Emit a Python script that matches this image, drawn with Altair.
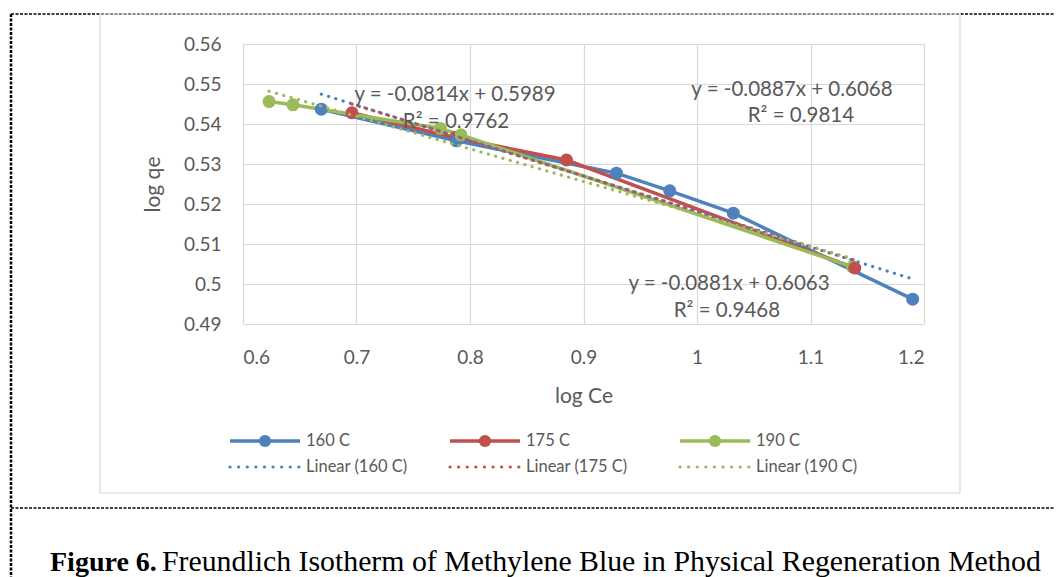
import altair as alt
import pandas as pd

# ---- data ----
series = ["160 C", "175 C", "190 C"]
colors = ["#4F81BD", "#C0504D", "#9BBB59"]

x160 = [0.669, 0.788, 0.929, 0.976, 1.032, 1.190]
y160 = [0.5437, 0.5358, 0.5277, 0.5233, 0.5177, 0.4962]
x175 = [0.696, 0.787, 0.885, 1.139]
y175 = [0.5428, 0.5366, 0.5310, 0.5040]
x190 = [0.623, 0.644, 0.774, 0.792, 1.137]
y190 = [0.5456, 0.5448, 0.5389, 0.5373, 0.5043]

# trendline equations shown on the chart
slopes = [-0.0887, -0.0881, -0.0814]
intercepts = [0.6068, 0.6063, 0.5989]
r2 = [0.9814, 0.9468, 0.9762]

# annotation anchor points (data units): equation line and R² line
eq_x = [1.0837, 1.0282, 0.7868]
eq_y = [0.5485, 0.5000, 0.54725]
r2_x = [1.0916, 1.0264, 0.7877]
r2_y = [0.5420, 0.49325, 0.5405]

x_ticks = [0.6, 0.7, 0.8, 0.9, 1.0, 1.1, 1.2]
y_ticks = [0.49, 0.50, 0.51, 0.52, 0.53, 0.54, 0.55, 0.56]

caption_bold = "Figure 6."
caption_rest = "Freundlich Isotherm of Methylene Blue in Physical Regeneration Method"

# ---- tables ----
xs = [x160, x175, x190]
ys = [y160, y175, y190]
pts = pd.DataFrame(
    [{"series": s, "x": x, "y": y} for s, xx, yy in zip(series, xs, ys) for x, y in zip(xx, yy)]
)
trend_rows = []
for s, xx, m, b in zip(series, xs, slopes, intercepts):
    for x in (min(xx), max(xx)):
        trend_rows.append({"series": s, "x": x, "y": m * x + b})
trend = pd.DataFrame(trend_rows)

ann_rows = []
for m, b, r, ex, ey, rx, ry in zip(slopes, intercepts, r2, eq_x, eq_y, r2_x, r2_y):
    ann_rows.append({"x": ex, "y": ey, "t": f"y = {m:.4f}x + {b:.4f}"})
    ann_rows.append({"x": rx, "y": ry, "t": f"R² = {r:.4f}"})
ann = pd.DataFrame(ann_rows)

W, H = 681, 280
OX, OY = 243, 44  # page position of the plot origin
FONT = "Lato"
GREY = "#595959"

color = alt.Color("series:N", scale=alt.Scale(domain=series, range=colors), legend=None)
xs_scale = alt.Scale(domain=[0.6, 1.2], nice=False, zero=False)
ys_scale = alt.Scale(domain=[0.49, 0.56], nice=False, zero=False)


def px(v):
    return alt.value(v - OX)


def py(v):
    return alt.value(v - OY)


anchor = pd.DataFrame({"a": [0]})

frame = alt.Chart(anchor).mark_rect(fillOpacity=0, stroke="#D9D9D9", strokeWidth=1.2).encode(
    x=px(100), x2=px(960), y=py(14), y2=py(493)
)
dash_top = alt.Chart(anchor).mark_rule(color="black", strokeDash=[3, 1.5], strokeWidth=1.5).encode(
    x=px(11), x2=px(1062), y=py(14)
)
dash_bottom = alt.Chart(anchor).mark_rule(color="black", strokeDash=[3, 1.5], strokeWidth=1.5).encode(
    x=px(11), x2=px(1062), y=py(508)
)
dash_left = alt.Chart(anchor).mark_rule(color="black", strokeDash=[3, 1.5], strokeWidth=2.5).encode(
    x=px(11), y=py(14), y2=py(577)
)

axis_common = dict(grid=True, gridColor="#D9D9D9", gridWidth=1.2, domain=False, ticks=False,
                   labelFont=FONT, labelFontSize=19, labelColor=GREY, labelOverlap=False,
                   tickCount=20,
                   titleFont=FONT, titleFontSize=21, titleFontWeight="normal", titleColor=GREY)

base_axes = alt.Chart(pts).mark_point(opacity=0).encode(
    x=alt.X("x:Q", scale=xs_scale, title="log Ce",
            axis=alt.Axis(values=x_ticks, format="~g", labelPadding=24, titlePadding=18, **axis_common)),
    y=alt.Y("y:Q", scale=ys_scale, title="log qe",
            axis=alt.Axis(values=y_ticks, format="~g", labelPadding=22, titlePadding=20, **axis_common)),
)

lines = alt.Chart(pts).mark_line(
    strokeWidth=3.5, point=alt.OverlayMarkDef(filled=True, size=170, opacity=1)
).encode(x=alt.X("x:Q", scale=xs_scale), y=alt.Y("y:Q", scale=ys_scale), color=color,
         order=alt.Order("x:Q"))

trends = alt.Chart(trend).mark_line(strokeWidth=3.2, strokeDash=[0.1, 7.5], strokeCap="round").encode(
    x=alt.X("x:Q", scale=xs_scale), y=alt.Y("y:Q", scale=ys_scale), color=color
)

texts = alt.Chart(ann).mark_text(font=FONT, fontSize=20.5, color=GREY, align="center", baseline="middle").encode(
    x=alt.X("x:Q", scale=xs_scale), y=alt.Y("y:Q", scale=ys_scale), text="t:N"
)

# legend (built from the series list)
leg_rows = []
col_x = [230, 450, 680]
for i, s in enumerate(series):
    leg_rows.append({"label": s, "x0": col_x[i] - OX, "x1": col_x[i] + 70 - OX, "y": 441 - OY,
                     "row": 0, "series": s})
    leg_rows.append({"label": f"Linear ({s})", "x0": col_x[i] - OX, "x1": col_x[i] + 70 - OX,
                     "y": 467 - OY, "row": 1, "series": s})
leg = pd.DataFrame(leg_rows)

leg_solid = alt.Chart(leg).transform_filter("datum.row == 0").mark_rule(strokeWidth=3.5).encode(
    x=alt.X("x0:Q", scale=None), x2="x1:Q", y=alt.Y("y:Q", scale=None), color=color
)
leg_dot = alt.Chart(leg).transform_filter("datum.row == 0").transform_calculate(
    xm="(datum.x0 + datum.x1) / 2"
).mark_circle(size=150, opacity=1).encode(
    x=alt.X("xm:Q", scale=None), y=alt.Y("y:Q", scale=None), color=color
)
leg_dotted = alt.Chart(leg).transform_filter("datum.row == 1").mark_rule(
    strokeWidth=3.2, strokeDash=[0.1, 8.5], strokeCap="round"
).encode(x=alt.X("x0:Q", scale=None), x2="x1:Q", y=alt.Y("y:Q", scale=None), color=color)
leg_text = alt.Chart(leg).transform_calculate(xt="datum.x1 + 6").mark_text(
    font=FONT, fontSize=16.5, color=GREY, align="left", baseline="middle"
).encode(x=alt.X("xt:Q", scale=None), y=alt.Y("y:Q", scale=None), text="label:N")

cap_df = pd.DataFrame({"b": [caption_bold], "r": [caption_rest]})
cap_bold = alt.Chart(cap_df).mark_text(
    font="Liberation Serif", fontSize=28, fontWeight="bold", color="black", align="left", baseline="alphabetic"
).encode(x=px(50), y=py(571), text="b:N")
cap_rest = alt.Chart(cap_df).mark_text(
    font="Liberation Serif", fontSize=29.8, color="black", align="left", baseline="alphabetic"
).encode(x=px(162), y=py(571), text="r:N")

chart = alt.layer(
    dash_left, dash_top, dash_bottom, frame,
    base_axes, lines, trends, texts,
    leg_solid, leg_dot, leg_dotted, leg_text,
    cap_bold, cap_rest,
).properties(
    width=W, height=H,
    autosize=alt.AutoSizeParams(type="none"),
    padding={"left": OX - 8, "top": OY - 8, "right": 1046 - (OX - 8) - W, "bottom": 569 - (OY - 8) - H},
    background="white",
).configure_view(stroke=None).resolve_scale(color="shared")

chart.save("out.html", embed_options={"renderer": "svg", "actions": False})
